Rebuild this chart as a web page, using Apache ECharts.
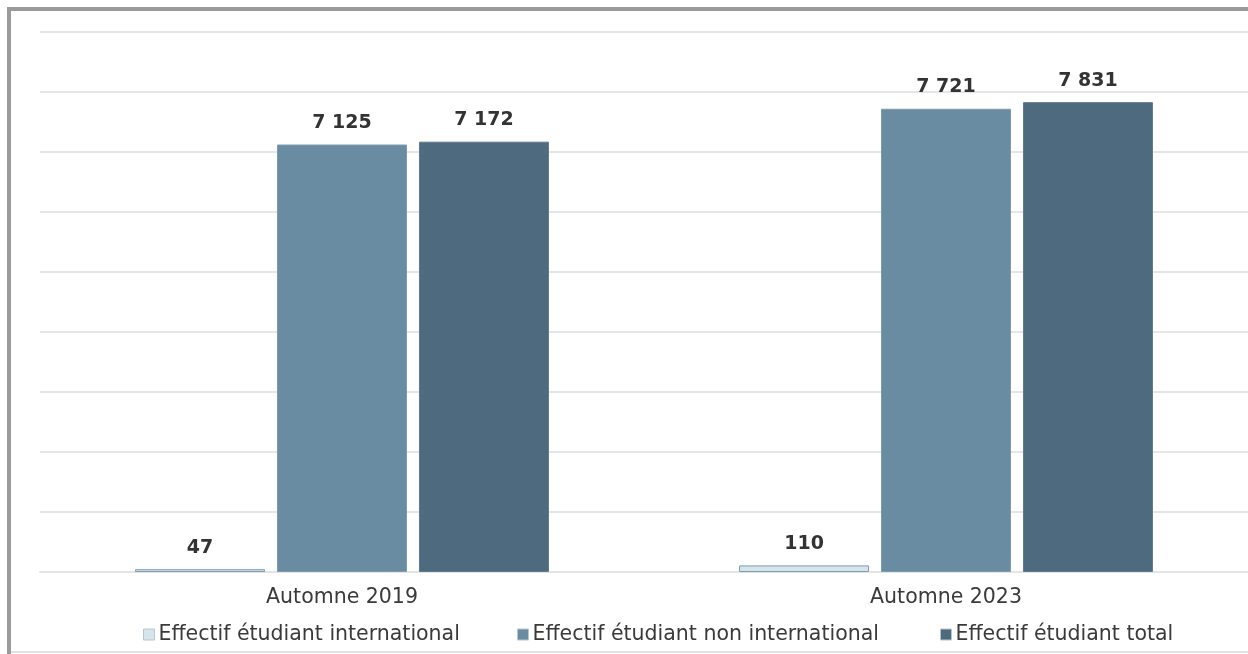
<!DOCTYPE html>
<html>
<head>
<meta charset="utf-8">
<script src="https://cdn.jsdelivr.net/npm/echarts@6/dist/echarts.min.js"></script>
<style>
  html, body { margin: 0; padding: 0; background: #fff; }
  #chart { width: 1248px; height: 654px; }
</style>
</head>
<body>
<div id="chart"></div>
<script>
const categories = ['Automne 2019', 'Automne 2023']
const seriesNames = ['Effectif étudiant international', 'Effectif étudiant non international', 'Effectif étudiant total']
const international = [47, 110]
const nonInternational = [7125, 7721]
const total = [7172, 7831]

const colors = ['#d6e4ec', '#6a8ca3', '#4d6a7e']
const borders = ['#7f9bad', '#7d9bb0', '#5f7b8e']
const FONT = 'DejaVu Sans'

// 7125 -> "7 125"
const fmt = v => String(v).replace(/\B(?=(\d{3})+(?!\d))/g, ' ')

const chart = echarts.init(document.getElementById('chart'))

const makeSeries = (name, data, i) => ({
  name,
  type: 'bar',
  data,
  barWidth: 130,
  barGap: '9.2%',
  itemStyle: { color: colors[i], borderColor: borders[i], borderWidth: 1 },
  label: {
    show: true,
    position: 'top',
    distance: 12,
    formatter: p => fmt(p.value),
    fontFamily: FONT,
    fontWeight: 'bold',
    fontSize: 19,
    color: '#333'
  }
})

// une légende par série pour caler les positions
const legendLeft = [138, 512, 935]
const legends = seriesNames.map((name, i) => ({
  data: [name],
  left: legendLeft[i],
  top: 619,
  itemWidth: 11,
  itemHeight: 11,
  icon: 'rect',
  selectedMode: false,
  itemStyle: { borderColor: '#b7c6d0', borderWidth: 1 },
  textStyle: { fontSize: 20.5, color: '#3a3a3a', fontFamily: FONT, padding: [0, 0, 0, -1] }
}))

chart.setOption({
  animation: false,
  textStyle: { fontFamily: FONT },
  // cadre gris coupé à droite et en bas
  graphic: [
    { type: 'rect', shape: { x: 7, y: 7, width: 1250, height: 4 }, style: { fill: '#9b9b9b' } },
    { type: 'rect', shape: { x: 7, y: 7, width: 4, height: 660 }, style: { fill: '#9b9b9b' } },
    { type: 'rect', shape: { x: 11, y: 651, width: 1240, height: 2 }, style: { fill: '#e2e2e2' } }
  ],
  legend: legends,
  grid: {
    left: 40,
    right: -4,
    top: 32,
    bottom: 82,
    containLabel: false
  },
  xAxis: {
    type: 'category',
    data: categories,
    axisLine: { show: true, lineStyle: { color: '#e4e4e4', width: 2 } },
    axisTick: { show: false },
    axisLabel: { color: '#3a3a3a', fontSize: 20.5, margin: 15, fontFamily: FONT }
  },
  yAxis: {
    type: 'value',
    min: 0,
    max: 9000,
    interval: 1000,
    axisLine: { show: false },
    axisTick: { show: false },
    axisLabel: { show: false },
    splitLine: { lineStyle: { color: '#e6e6e6', width: 2 } }
  },
  series: [
    makeSeries(seriesNames[0], international, 0),
    makeSeries(seriesNames[1], nonInternational, 1),
    makeSeries(seriesNames[2], total, 2)
  ]
})
</script>
</body>
</html>
